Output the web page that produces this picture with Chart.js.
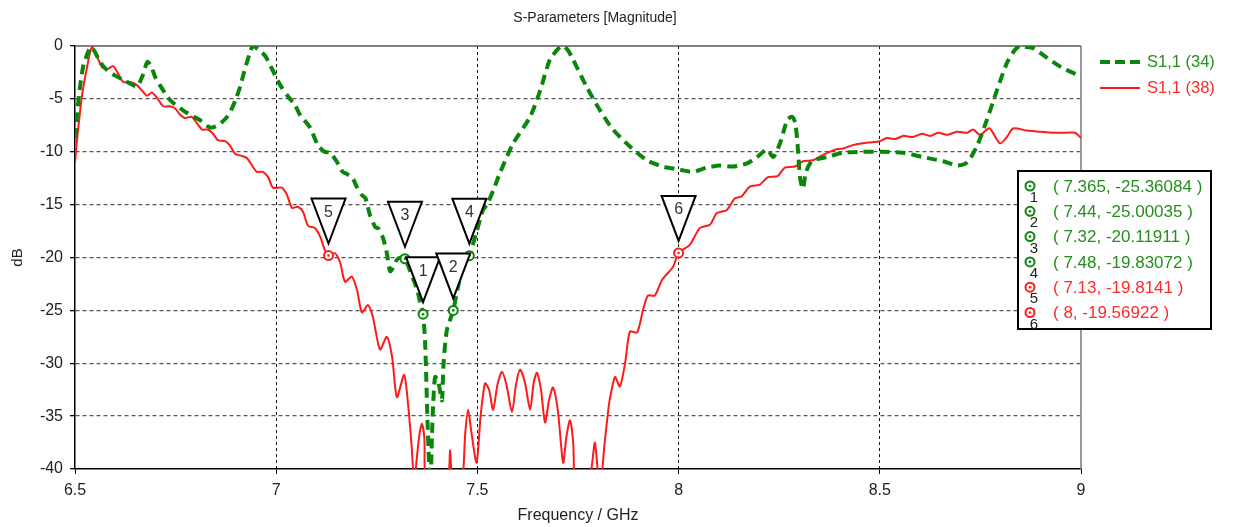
<!DOCTYPE html>
<html>
<head>
<meta charset="utf-8">
<title>S-Parameters [Magnitude]</title>
<script src="https://cdn.jsdelivr.net/npm/chart.js@4.4.1/dist/chart.umd.min.js"></script>
<style>
    html, body { margin: 0; padding: 0; background: #fff; }
    #wrap { width: 1233px; height: 527px; }
</style>
</head>
<body>
<div id="wrap"><canvas id="sparamChart" width="1233" height="527"></canvas></div>
<script>
// S1,1 (34) - courbe verte en pointillés
const freq34 = [6.5, 6.505, 6.512, 6.52, 6.53, 6.54, 6.55, 6.562, 6.58, 6.6, 6.62, 6.64, 6.655, 6.668, 6.68, 6.69, 6.7, 6.711, 6.736, 6.773,
    6.81, 6.835, 6.85, 6.865, 6.88, 6.89, 6.9, 6.91, 6.92, 6.935, 6.942, 6.955, 6.972, 6.99, 7.01, 7.03, 7.047, 7.059, 7.084, 7.104,
    7.12, 7.134, 7.15, 7.165, 7.176, 7.19, 7.2, 7.213, 7.222, 7.233, 7.246, 7.255, 7.265, 7.275, 7.283, 7.29, 7.3, 7.31, 7.32, 7.33,
    7.34, 7.35, 7.358, 7.365, 7.37, 7.373, 7.376, 7.38, 7.383, 7.387, 7.39, 7.395, 7.403, 7.408, 7.412, 7.416, 7.424, 7.44, 7.45, 7.462,
    7.48, 7.497, 7.514, 7.524, 7.54, 7.556, 7.589, 7.631, 7.656, 7.68, 7.7, 7.713, 7.725, 7.738, 7.772, 7.805, 7.837, 7.879, 7.921, 7.961,
    8.003, 8.036, 8.07, 8.103, 8.135, 8.17, 8.195, 8.22, 8.235, 8.252, 8.27, 8.282, 8.29, 8.296, 8.302, 8.309, 8.316, 8.325, 8.334, 8.369,
    8.409, 8.458, 8.508, 8.558, 8.607, 8.657, 8.692, 8.717, 8.741, 8.766, 8.791, 8.816, 8.835, 8.848, 8.865, 8.881, 8.915, 8.955, 8.99, 9.0];
const db34 = [-8.7, -6.5, -4.0, -2.0, -0.8, -0.1, -0.6, -1.5, -2.3, -2.8, -3.2, -3.6, -3.8, -2.8, -1.5, -2.0, -3.0, -3.7, -5.1, -6.2,
    -7.0, -7.7, -7.6, -7.2, -6.6, -5.9, -5.0, -3.9, -2.5, -0.6, 0, -0.3, -0.9, -2.2, -3.7, -4.8, -5.6, -6.5, -7.7, -9.4,
    -10.0, -10.1, -10.9, -11.9, -12.1, -12.5, -13.3, -14.1, -14.4, -16.0, -17.1, -17.3, -18.1, -19.6, -21.3, -21.0, -20.2, -20.0, -20.12, -21.0,
    -22.0, -23.0, -24.3, -25.36, -28.0, -31.5, -35.5, -39.5, -42.0, -37.0, -34.0, -31.3, -31.8, -32.8, -33.5, -30.0, -26.9, -25.0, -23.1, -21.2,
    -19.83, -17.7, -15.5, -15.0, -13.6, -12.0, -9.2, -6.7, -4.2, -1.3, -0.3, 0, -0.4, -1.3, -3.9, -6.1, -7.9, -9.5, -10.8, -11.4,
    -11.7, -11.9, -11.5, -11.3, -11.4, -11.1, -10.5, -9.8, -10.5, -9.2, -7.0, -6.7, -7.3, -9.5, -12.5, -13.5, -12.0, -11.2, -10.8, -10.5,
    -10.1, -10.0, -10.0, -10.1, -10.5, -10.9, -11.3, -11.0, -9.5, -7.0, -4.2, -1.6, -0.4, 0, -0.1, -0.2, -1.1, -2.1, -2.7, -2.9];

// S1,1 (38) - courbe rouge
const freq38 = [6.5, 6.505, 6.517, 6.53, 6.542, 6.555, 6.567, 6.58, 6.595, 6.607, 6.62, 6.637, 6.654, 6.666, 6.679, 6.691, 6.704, 6.719, 6.736, 6.749,
    6.761, 6.773, 6.79, 6.803, 6.816, 6.83, 6.843, 6.855, 6.873, 6.885, 6.898, 6.915, 6.927, 6.94, 6.952, 6.967, 6.98, 6.992, 7.014, 7.027,
    7.039, 7.054, 7.067, 7.079, 7.096, 7.109, 7.121, 7.13, 7.146, 7.159, 7.171, 7.188, 7.201, 7.213, 7.228, 7.24, 7.258, 7.275, 7.288, 7.3,
    7.318, 7.328, 7.336, 7.343, 7.355, 7.362, 7.368, 7.375, 7.425, 7.432, 7.438, 7.46, 7.47, 7.477, 7.485, 7.498, 7.508, 7.519, 7.529, 7.539,
    7.55, 7.561, 7.572, 7.586, 7.596, 7.606, 7.618, 7.631, 7.64, 7.648, 7.658, 7.668, 7.678, 7.688, 7.7, 7.713, 7.721, 7.73, 7.738, 7.745,
    7.775, 7.785, 7.792, 7.8, 7.806, 7.815, 7.825, 7.83, 7.842, 7.854, 7.867, 7.879, 7.897, 7.912, 7.924, 7.941, 7.959, 7.986, 8.0, 8.028,
    8.053, 8.078, 8.095, 8.12, 8.14, 8.157, 8.177, 8.202, 8.222, 8.246, 8.264, 8.289, 8.309, 8.334, 8.359, 8.389, 8.409, 8.431, 8.458, 8.481,
    8.5, 8.518, 8.538, 8.558, 8.582, 8.605, 8.625, 8.645, 8.667, 8.692, 8.717, 8.732, 8.749, 8.766, 8.774, 8.799, 8.816, 8.831, 8.866, 8.898,
    8.93, 8.965, 8.985, 9.0];
const db38 = [-11.0, -8.9, -4.8, -2.0, -0.1, -1.0, -2.0, -2.2, -1.9, -2.6, -3.4, -3.4, -3.7, -4.2, -4.7, -4.4, -4.9, -5.7, -5.7, -5.9,
    -6.5, -6.8, -6.7, -7.3, -7.9, -7.9, -8.3, -8.9, -9.0, -9.4, -10.2, -10.4, -10.6, -11.3, -11.9, -11.9, -12.4, -13.4, -13.4, -14.1,
    -15.3, -15.2, -15.7, -17.0, -17.2, -18.0, -19.3, -19.81, -19.6, -20.5, -22.3, -21.8, -23.1, -25.2, -24.5, -25.6, -28.7, -27.5, -29.4, -33.2,
    -31.1, -34.0, -37.5, -41.0, -37.0, -35.7, -37.0, -42.0, -41.0, -38.2, -41.0, -42.0, -36.5, -34.4, -36.5, -39.4, -35.0, -31.9, -32.5, -34.4,
    -32.0, -30.8, -32.0, -34.6, -32.0, -30.6, -31.8, -34.4, -31.8, -30.9, -32.5, -35.6, -33.5, -32.3, -34.5, -39.4, -37.0, -35.4, -37.5, -42.0,
    -42.0, -39.5, -37.5, -40.5, -42.0, -38.0, -34.5, -33.2, -31.3, -32.2, -30.0, -27.0, -27.1, -24.9, -23.6, -23.6, -22.1, -20.9, -19.57, -18.8,
    -17.2, -16.9, -15.8, -15.5, -14.4, -14.2, -13.3, -13.1, -12.4, -12.3, -11.5, -11.4, -10.9, -10.8, -10.3, -9.8, -9.7, -9.4, -9.2, -9.1,
    -9.0, -8.7, -8.8, -8.5, -8.6, -8.3, -8.5, -8.2, -8.4, -8.1, -8.2, -7.9, -8.4, -7.9, -7.8, -9.2, -8.6, -7.8, -8.0, -8.1,
    -8.2, -8.2, -8.2, -8.7];

// Marqueurs
const markerIds = [1, 2, 3, 4, 5, 6];
const markerFreq = [7.365, 7.44, 7.32, 7.48, 7.13, 8];
const markerDb = [-25.36084, -25.00035, -20.11911, -19.83072, -19.8141, -19.56922];
const markerSeries = [0, 0, 0, 0, 1, 1];

// Axes
const xTickValues = [6.5, 7, 7.5, 8, 8.5, 9];
const yTickValues = [0, -5, -10, -15, -20, -25, -30, -35, -40];
const seriesNames = ["S1,1 (34)", "S1,1 (38)"];
const chartTitle = "S-Parameters [Magnitude]";
const xTitle = "Frequency / GHz";
const yTitle = "dB";

const GREEN = "#0a870a";
const RED = "#ff1a1a";
const seriesColors = [GREEN, RED];
const textColors = ["#248f1c", "#ff2a2a"];
const FONT = "'Liberation Sans', Arial, sans-serif";

const toPoints = (xs, ys) => xs.map((x, i) => ({ x: x, y: ys[i] }));

// Dessine cadre, marqueurs, légendes et titres
const overlay = {
    id: "overlay",
    beforeDatasetsDraw(chart) {
        const { ctx, chartArea: a } = chart;
        ctx.save();
        ctx.lineWidth = 1.5;
        ctx.strokeStyle = "#555";
        ctx.beginPath();
        ctx.moveTo(a.left, a.top);
        ctx.lineTo(a.right, a.top);
        ctx.stroke();
        ctx.strokeStyle = "#777";
        ctx.beginPath();
        ctx.moveTo(a.right, a.top);
        ctx.lineTo(a.right, a.bottom);
        ctx.stroke();
        ctx.restore();
    },
    afterDatasetsDraw(chart) {
        const { ctx } = chart;
        const xs = chart.scales.x, ys = chart.scales.y;
        ctx.save();
        markerIds.forEach((id, i) => {
            const px = xs.getPixelForValue(markerFreq[i]);
            const py = ys.getPixelForValue(markerDb[i]);
            drawMarkerCircle(ctx, px, py, seriesColors[markerSeries[i]]);
        });
        markerIds.forEach((id, i) => {
            const px = xs.getPixelForValue(markerFreq[i]);
            const py = ys.getPixelForValue(markerDb[i]);
            const tip = py - 12, top = py - 57;
            ctx.beginPath();
            ctx.moveTo(px - 17, top);
            ctx.lineTo(px + 17, top);
            ctx.lineTo(px, tip);
            ctx.closePath();
            ctx.fillStyle = "#fff";
            ctx.fill();
            ctx.lineWidth = 2;
            ctx.strokeStyle = "#000";
            ctx.stroke();
            ctx.fillStyle = "#333";
            ctx.font = "16px " + FONT;
            ctx.textAlign = "center";
            ctx.textBaseline = "middle";
            ctx.fillText(String(id), px, top + 14);
        });
        ctx.restore();
    },
    afterDraw(chart) {
        const { ctx, chartArea: a } = chart;
        ctx.save();
        // titre
        ctx.fillStyle = "#222";
        ctx.textAlign = "center";
        ctx.textBaseline = "middle";
        ctx.font = "14px " + FONT;
        ctx.fillText(chartTitle, 595, 18);
        ctx.font = "16px " + FONT;
        ctx.fillText(xTitle, (a.left + a.right) / 2, 516);
        ctx.save();
        ctx.translate(18, (a.top + a.bottom) / 2);
        ctx.rotate(-Math.PI / 2);
        ctx.font = "15px " + FONT;
        ctx.fillText(yTitle, 0, 0);
        ctx.restore();

        // légende des séries
        ctx.textAlign = "left";
        ctx.font = "16.5px " + FONT;
        const legendY = [62, 88];
        seriesNames.forEach((name, i) => {
            ctx.beginPath();
            ctx.moveTo(1100, legendY[i]);
            ctx.lineTo(1140, legendY[i]);
            ctx.strokeStyle = seriesColors[i];
            if (i === 0) {
                ctx.lineWidth = 4;
                ctx.setLineDash([10, 5]);
            } else {
                ctx.lineWidth = 2;
                ctx.setLineDash([]);
            }
            ctx.stroke();
            ctx.setLineDash([]);
            ctx.fillStyle = textColors[i];
            ctx.fillText(name, 1147, legendY[i]);
        });

        // tableau des marqueurs
        ctx.fillStyle = "#fff";
        ctx.fillRect(1018, 171, 193, 158);
        ctx.lineWidth = 2;
        ctx.strokeStyle = "#000";
        ctx.strokeRect(1018, 171, 193, 158);
        markerIds.forEach((id, i) => {
            const ry = 187 + i * 25.3;
            const s = markerSeries[i];
            drawMarkerCircle(ctx, 1030, ry - 1, seriesColors[s]);
            ctx.fillStyle = "#222";
            ctx.font = "15px " + FONT;
            ctx.textAlign = "center";
            ctx.fillText(String(id), 1034, ry + 11);
            ctx.fillStyle = textColors[s];
            ctx.font = "17px " + FONT;
            ctx.textAlign = "left";
            ctx.fillText("( " + markerFreq[i] + ", " + markerDb[i] + " )", 1053, ry);
        });
        ctx.restore();
    }
};

function drawMarkerCircle(ctx, x, y, color) {
    ctx.beginPath();
    ctx.arc(x, y, 4.5, 0, Math.PI * 2);
    ctx.fillStyle = "#fff";
    ctx.fill();
    ctx.lineWidth = 2;
    ctx.strokeStyle = color;
    ctx.stroke();
    ctx.beginPath();
    ctx.arc(x, y, 1.3, 0, Math.PI * 2);
    ctx.fillStyle = color;
    ctx.fill();
}

const ctx = document.getElementById("sparamChart").getContext("2d");
new Chart(ctx, {
    type: "line",
    data: {
        datasets: [
            {
                label: seriesNames[0],
                data: toPoints(freq34, db34),
                borderColor: GREEN,
                borderWidth: 4,
                borderDash: [10, 6],
                pointRadius: 0,
                tension: 0.25,
                fill: false,
            },
            {
                label: seriesNames[1],
                data: toPoints(freq38, db38),
                borderColor: RED,
                borderWidth: 2,
                pointRadius: 0,
                tension: 0.25,
                fill: false,
            },
        ],
    },
    options: {
        responsive: false,
        animation: false,
        devicePixelRatio: 1,
        layout: { padding: { top: 46, right: 152, left: 0, bottom: 0 } },
        plugins: {
            legend: { display: false },
            title: { display: false },
            tooltip: { enabled: false },
        },
        scales: {
            x: {
                type: "linear",
                min: 6.5,
                max: 9,
                afterBuildTicks: (scale) => { scale.ticks = xTickValues.map(v => ({ value: v })); },
                afterFit: (scale) => { scale.height = 58; },
                ticks: {
                    color: "#222",
                    font: { family: FONT, size: 16 },
                    padding: 7,
                    maxRotation: 0,
                    callback: (v) => String(v),
                },
                grid: {
                    color: (c) => (c.tick && (c.tick.value === 6.5 || c.tick.value === 9)) ? "rgba(0,0,0,0)" : "#111",
                    lineWidth: 1,
                    tickLength: 5,
                    tickColor: "#000",
                },
                border: { display: true, color: "#000", width: 1.5, dash: [3, 3] },
            },
            y: {
                min: -40,
                max: 0,
                afterBuildTicks: (scale) => { scale.ticks = yTickValues.map(v => ({ value: v })); },
                afterFit: (scale) => { scale.width = 75; },
                ticks: {
                    color: "#222",
                    font: { family: FONT, size: 16 },
                    padding: 7,
                    callback: (v) => String(v),
                },
                grid: {
                    color: (c) => (c.tick && (c.tick.value === 0 || c.tick.value === -40)) ? "rgba(0,0,0,0)" : "#555",
                    lineWidth: 1.3,
                    tickLength: 5,
                    tickColor: "#000",
                },
                border: { display: true, color: "#000", width: 1.5, dash: [4, 3] },
            },
        },
    },
    plugins: [overlay],
});
</script>
</body>
</html>
